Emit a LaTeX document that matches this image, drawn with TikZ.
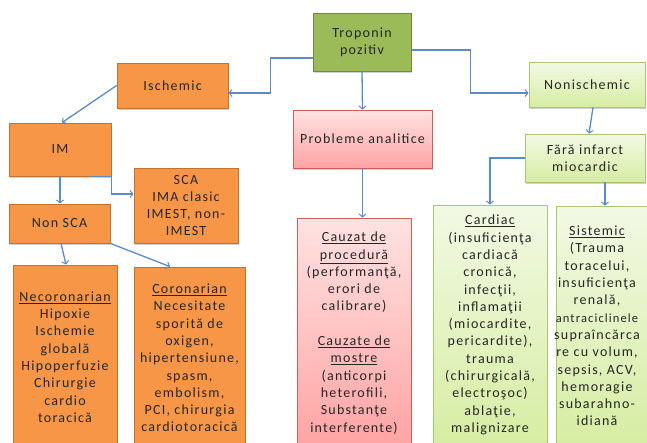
\documentclass[tikz,border=0pt]{standalone}
\usepackage{fontspec}
\setmainfont{Carlito}[LetterSpace=9]
\usetikzlibrary{arrows.meta,shadows}
\definecolor{orng}{HTML}{F79646}
\definecolor{orngdark}{HTML}{C0722F}
\definecolor{grn}{HTML}{9BBB59}
\definecolor{grndark}{HTML}{71893F}
\definecolor{lgtop}{HTML}{F2F9E4}
\definecolor{lgbot}{HTML}{D6EDA2}
\definecolor{lgdark}{HTML}{A8C870}
\definecolor{pktop}{HTML}{FFE2E2}
\definecolor{pkbot}{HTML}{FFA3A3}
\definecolor{pkdark}{HTML}{C9605C}
\definecolor{conncol}{HTML}{5B8BC9}
\definecolor{txt}{HTML}{262626}
\tikzset{
  box/.style={draw, line width=0.8pt, inner sep=0pt, align=center,
    font=\fontsize{14}{17.3}\selectfont, text=txt,
    drop shadow={shadow xshift=1.2pt, shadow yshift=-1.5pt, fill=black, opacity=0.18}},
  orangebox/.style={box, fill=orng, draw=orngdark},
  greenbox/.style={box, fill=grn, draw=grndark},
  lgbox/.style={box, draw=lgdark, top color=lgtop, bottom color=lgbot},
  pinkbox/.style={box, draw=pkdark, top color=pktop, bottom color=pkbot},
  plaintext/.style={inner sep=0pt, align=center, font=\fontsize{14}{17.3}\selectfont, text=txt},
  conn/.style={draw=conncol, line width=1.3pt, -{Straight Barb[length=3pt,width=7pt,line width=1pt]}}
}
\begin{document}
\begin{tikzpicture}[x=1pt,y=-1pt]
\path[use as bounding box, clip] (0,0) rectangle (647,442);
\fill[white] (0,0) rectangle (647,442);

\node[greenbox, minimum width=98, minimum height=58] (trop) at (362,42) {Troponin\\pozitiv};
\node[orangebox, minimum width=111, minimum height=45] (isch) at (172.5,85.5) {Ischemic};
\node[lgbox, minimum width=116, minimum height=45] (nonisch) at (587,84.5) {Nonischemic};
\node[pinkbox, minimum width=139, minimum height=58] (prob) at (362.5,139) {Probleme analitice};
\node[lgbox, minimum width=120, minimum height=48] (fara) at (585,158) {Fără infarct\\miocardic};
\node[orangebox, minimum width=102, minimum height=53] (im) at (60,149.5) {IM};
\node[orangebox, minimum width=104, minimum height=75] (sca) at (186,205.5) {SCA\\IMA clasic\\IMEST, non-\\IMEST};
\node[orangebox, minimum width=101, minimum height=39] (nonsca) at (59.5,223.5) {Non SCA};
\node[orangebox, minimum width=104, minimum height=184] (necor) at (65,357)
  {\underline{Necoronarian}\\Hipoxie\\Ischemie\\globală\\Hipoperfuzie\\Chirurgie\\cardio\\toracică};
\node[orangebox, minimum width=111, minimum height=182] (cor) at (189.5,358)
  {\underline{Coronarian}\\Necesitate\\sporită de\\oxigen,\\hipertensiune,\\spasm,\\embolism,\\PCI, chirurgia\\cardiotoracică};
\node[pinkbox, minimum width=114, minimum height=230] (cauzat) at (354,333)
  {\underline{Cauzat de}\\\underline{procedură}\\(performanţă,\\erori de\\calibrare)\\[17.3pt]\underline{Cauzate de}\\\underline{mostre}\\(anticorpi\\heterofili,\\Substanţe\\interferente)};
\node[lgbox, minimum width=114, minimum height=240] (cardiac) at (490,325)
  {\underline{Cardiac}\\(insuficienţa\\cardiacă\\cronică,\\infecţii,\\inflamaţii\\(miocardite,\\pericardite),\\trauma\\(chirurgicală,\\electroşoc)\\ablaţie,\\malignizare};
\node[lgbox, minimum width=110, minimum height=240] (sist) at (611,326) {};
\node[plaintext] (sisttxt) at (597,326)
  {\underline{Sistemic}\\(Trauma\\toracelui,\\insuficienţa\\renală,\\{\fontsize{12.5}{17.3}\selectfont antraciclinele}\\supraîncărca\\re cu volum,\\sepsis, ACV,\\hemoragie\\subarahno-\\idiană};

% connectors
\draw[conn] ([yshift=-16pt]trop.west) -| ([xshift=42pt,yshift=-7.5pt]isch.east) -- ([yshift=-7.5pt]isch.east);
\draw[conn] ([yshift=-8pt]trop.east) -| ([xshift=-58pt,yshift=-8.5pt]nonisch.west) -- ([yshift=-8.5pt]nonisch.west);
\draw[conn] (trop.south) -- (prob.north);
\draw[conn] ([xshift=6pt]nonisch.south) -- ([xshift=4pt]fara.north);
\draw[conn] (fara.west) -| (cardiac.north);
\draw[conn] ([xshift=20pt]fara.south) coordinate (f1) -- (f1 |- sist.north);
\draw[conn] (isch.west) -- ([xshift=2pt]im.north);
\draw[conn] (im.south) -- (im.south |- nonsca.north);
\draw[conn] ([xshift=30pt]im.south) -| ([xshift=-22pt,yshift=11.5pt]sca.west) -- ([yshift=11.5pt]sca.west);
\draw[conn] ([xshift=1.5pt]nonsca.south) -- ([xshift=1pt]necor.north);
\draw[conn] (nonsca.south east) -- ([xshift=-19.5pt]cor.north);
\draw[conn] (prob.south) -- (prob.south |- cauzat.north);
\end{tikzpicture}
\end{document}
